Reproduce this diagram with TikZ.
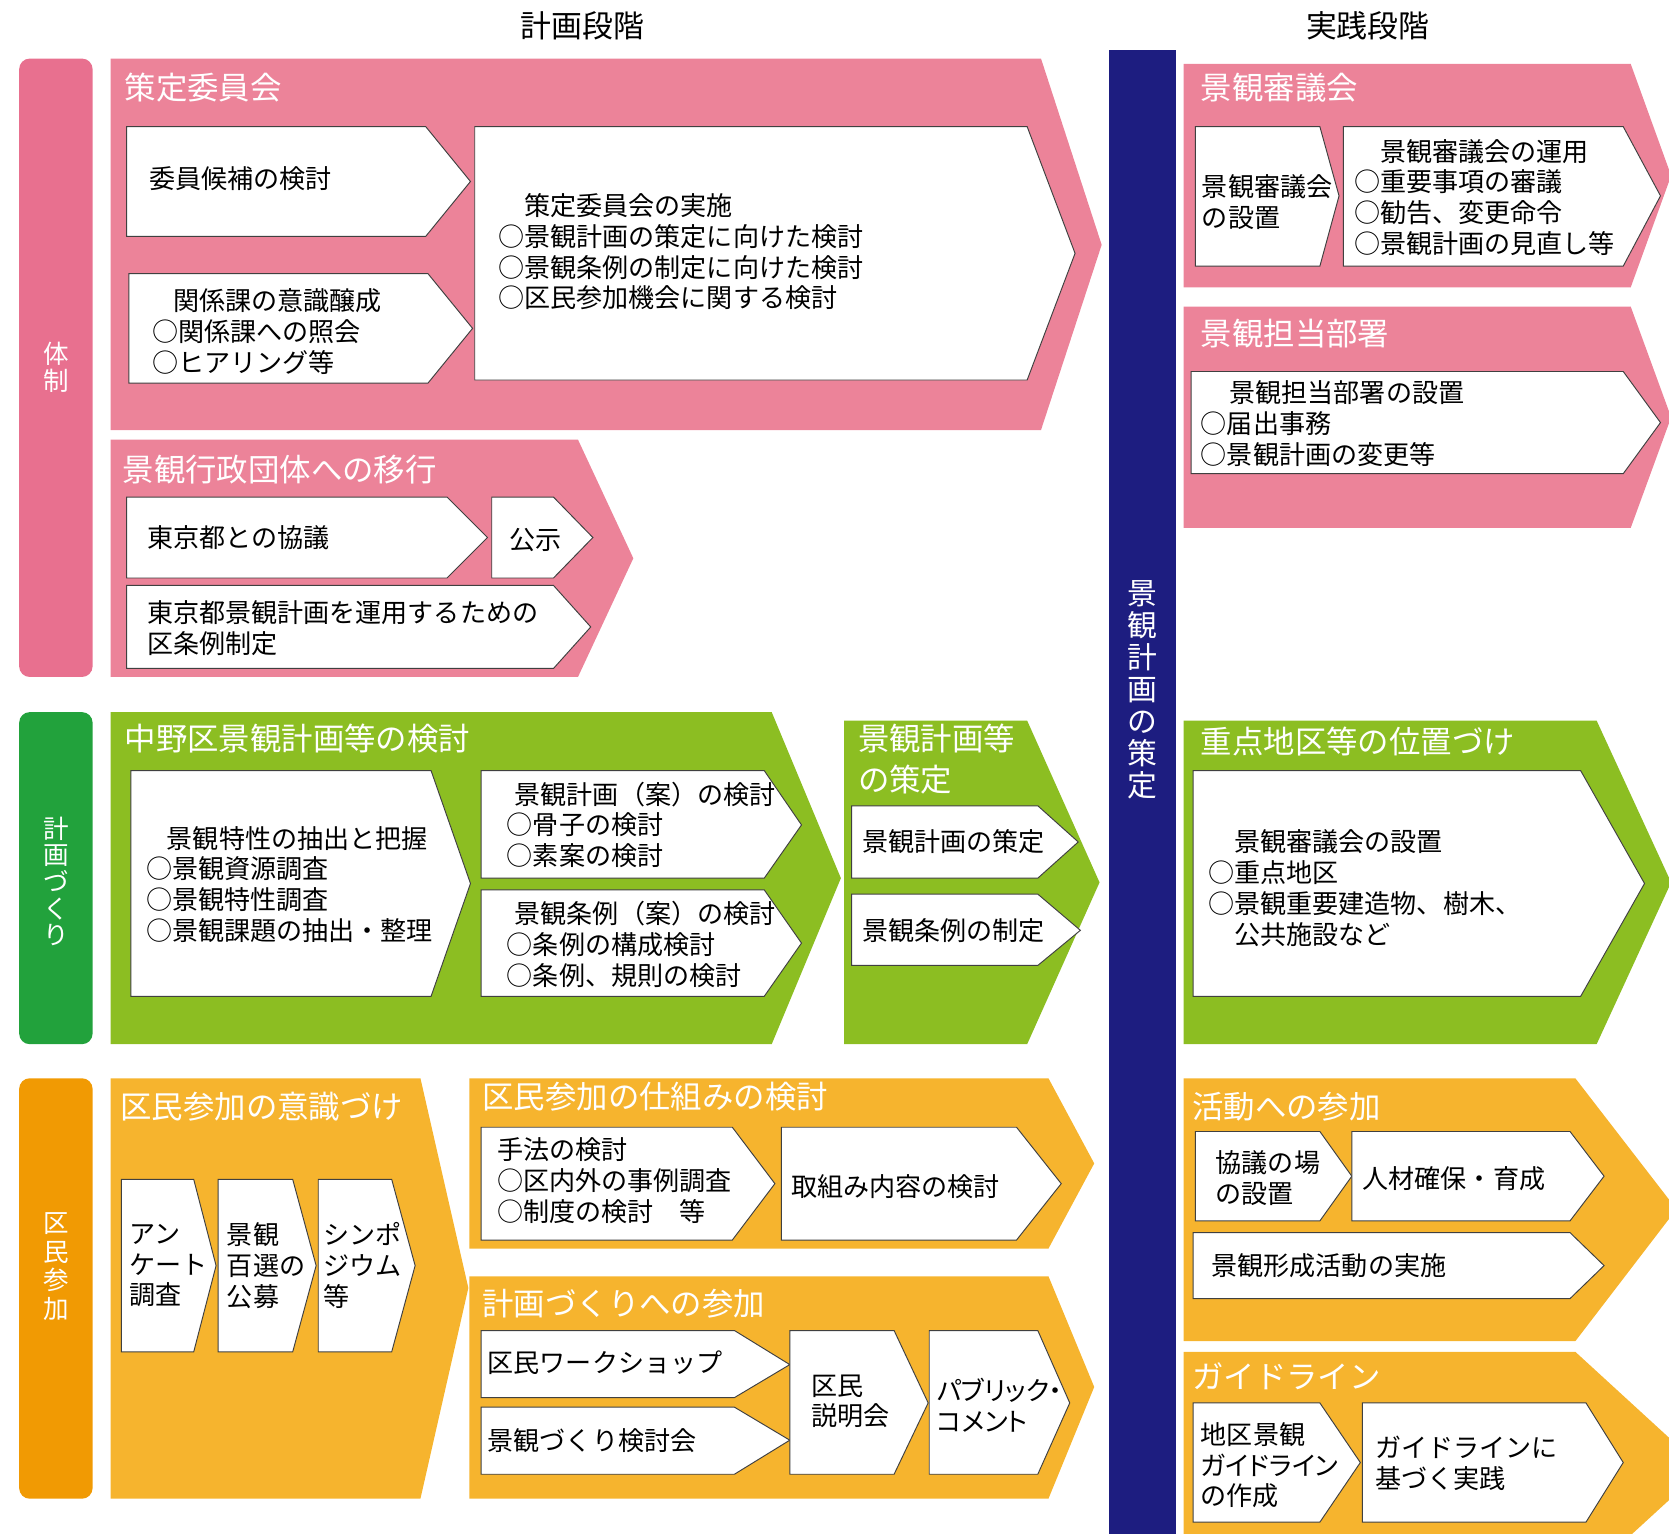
\documentclass[tikz,border=0pt]{standalone}
\usepackage{fontspec}
\setmainfont{Noto Sans CJK JP}
\definecolor{pinkband}{HTML}{EC8399}
\definecolor{pinkbar}{HTML}{E8708F}
\definecolor{greenband}{HTML}{8CBE22}
\definecolor{greenbar}{HTML}{22A23C}
\definecolor{orangeband}{HTML}{F6B42E}
\definecolor{orangebar}{HTML}{F19A03}
\definecolor{navybar}{HTML}{1D1D80}
\begin{document}
\begin{tikzpicture}[x=1pt, y=-1pt,
    panel/.style={draw=black!75, fill=white, line width=0.9pt},
    headtext/.style={text=white, anchor=west, inner sep=0, font=\fontsize{29.5}{38}\selectfont, align=left},
    bodytext/.style={anchor=west, inner sep=0, font=\fontsize{24.5}{29}\selectfont, align=left},
    sidetext/.style={text=white, inner sep=0, font=\fontsize{24}{25}\selectfont, align=center},
    phasetext/.style={inner sep=0, font=\fontsize{29}{34}\selectfont}]
    \useasboundingbox (0,0) rectangle (1568,1441);

    % Phase headings
    \node[phasetext] (planphase) at (547,24) {計画段階};
    \node[phasetext] (practphase) at (1285,24) {実践段階};

    % Category bars on the left
    \fill[pinkbar, rounded corners=10pt] (18,55) rectangle (87,636);
    \fill[greenbar, rounded corners=10pt] (18,669) rectangle (87,981);
    \fill[orangebar, rounded corners=10pt] (18,1013) rectangle (87,1408);
    \node[sidetext] (taisei) at (53,345) {体\\制};
    \node[sidetext] (keikaku) at (53,828) {計\\画\\づ\\く\\り};
    \node[sidetext, font=\fontsize{24}{27}\selectfont] (kumin) at (53,1190) {区\\民\\参\\加};

    % Central bar
    \fill[navybar] (1042,47) rectangle (1105,1450);
    \node[text=white, inner sep=0, align=center, font=\fontsize{28}{30}\selectfont] (sakutei) at (1073,648) {景\\観\\計\\画\\の\\策\\定};

    % ---- Taisei row (pink) ----
    \fill[pinkband] (104,55) -- (978,55) -- (1035,230) -- (978,404) -- (104,404) -- cycle;
    \node[headtext] (iinkai) at (117,82) {策定委員会};
    \draw[panel] (119,119) -- (400,119) -- (442,170.5) -- (400,222) -- (119,222) -- cycle;
    \node[bodytext] (kouho) at (140,168) {委員候補の検討};
    \draw[panel] (121,257) -- (402,257) -- (444,308.5) -- (402,360) -- (121,360) -- cycle;
    \node[bodytext] (jousei) at (143,311.5) {\hspace*{0.8em}関係課の意識醸成\\○関係課への照会\\○ヒアリング等};
    \draw[panel] (446,119) -- (965,119) -- (1010,238) -- (965,357) -- (446,357) -- cycle;
    \node[bodytext] (jisshi) at (468,236.5) {\hspace*{1em}策定委員会の実施\\○景観計画の策定に向けた検討\\○景観条例の制定に向けた検討\\○区民参加機会に関する検討};

    \fill[pinkband] (104,413) -- (543,413) -- (595,524.5) -- (543,636) -- (104,636) -- cycle;
    \node[headtext] (ikou) at (115,441) {景観行政団体への移行};
    \draw[panel] (119,467) -- (420,467) -- (458,505) -- (420,543) -- (119,543) -- cycle;
    \node[bodytext] (kyougi) at (138,505) {東京都との協議};
    \draw[panel] (462,467) -- (520,467) -- (557,505) -- (520,543) -- (462,543) -- cycle;
    \node[bodytext] (kouji) at (478,507) {公示};
    \draw[panel] (119,550) -- (520,550) -- (555,589) -- (520,628) -- (119,628) -- cycle;
    \node[bodytext] (jourei) at (138,590.5) {東京都景観計画を運用するための\\区条例制定};

    % ---- Keikaku row (green) ----
    \fill[greenband] (104,669) -- (725,669) -- (790,825) -- (725,981) -- (104,981) -- cycle;
    \node[headtext] (kentou) at (117,694) {中野区景観計画等の検討};
    \draw[panel] (123,724) -- (405,724) -- (442,830) -- (405,936) -- (123,936) -- cycle;
    \node[bodytext] (tokusei) at (137,831) {\hspace*{0.8em}景観特性の抽出と把握\\○景観資源調査\\○景観特性調査\\○景観課題の抽出・整理};
    \draw[panel] (452,724) -- (718,724) -- (753,775) -- (718,825) -- (452,825) -- cycle;
    \node[bodytext] (keikakuan) at (476,775) {\hspace*{0.3em}景観計画（案）の検討\\○骨子の検討\\○素案の検討};
    \draw[panel] (452,836) -- (718,836) -- (753,886) -- (718,936) -- (452,936) -- cycle;
    \node[bodytext] (joureian) at (476,887) {\hspace*{0.3em}景観条例（案）の検討\\○条例の構成検討\\○条例、規則の検討};

    \fill[greenband] (793,677) -- (965,677) -- (1033,829) -- (965,981) -- (793,981) -- cycle;
    \node[headtext] (sakuteihead) at (806,713) {景観計画等\\の策定};
    \draw[panel] (800,757) -- (975,757) -- (1013,791) -- (975,825) -- (800,825) -- cycle;
    \node[bodytext] (keikakusakutei) at (810,791) {景観計画の策定};
    \draw[panel] (800,840) -- (975,840) -- (1015,874) -- (975,907) -- (800,907) -- cycle;
    \node[bodytext] (jourei2) at (810,874) {景観条例の制定};

    % ---- Kumin row (orange) ----
    \fill[orangeband] (104,1013) -- (395,1013) -- (440,1210) -- (395,1408) -- (104,1408) -- cycle;
    \node[headtext] (ishiki) at (113,1040) {区民参加の意識づけ};
    \draw[panel] (114,1108) -- (182,1108) -- (203,1189) -- (182,1270) -- (114,1270) -- cycle;
    \node[bodytext] (anketo) at (121,1189) {アン\\ケート\\調査};
    \draw[panel] (205,1108) -- (275,1108) -- (297,1189) -- (275,1270) -- (205,1270) -- cycle;
    \node[bodytext] (hyakusen) at (213,1189) {景観\\百選の\\公募};
    \draw[panel] (299,1108) -- (368,1108) -- (390,1189) -- (368,1270) -- (299,1270) -- cycle;
    \node[bodytext] (shinpo) at (304,1189) {シンポ\\ジウム\\等};

    \fill[orangeband] (441,1013) -- (985,1013) -- (1028,1093) -- (985,1173) -- (441,1173) -- cycle;
    \node[headtext] (shikumi) at (453,1030) {区民参加の仕組みの検討};
    \draw[panel] (452,1059) -- (688,1059) -- (728,1112) -- (688,1165) -- (452,1165) -- cycle;
    \node[bodytext] (shuhou) at (467,1109.5) {手法の検討\\○区内外の事例調査\\○制度の検討　等};
    \draw[panel] (734,1059) -- (955,1059) -- (997,1112) -- (955,1165) -- (734,1165) -- cycle;
    \node[bodytext] (torikumi) at (743,1115) {取組み内容の検討};

    \fill[orangeband] (441,1199) -- (985,1199) -- (1028,1303) -- (985,1408) -- (441,1408) -- cycle;
    \node[headtext] (sanka) at (453,1225) {計画づくりへの参加};
    \draw[panel] (452,1250) -- (690,1250) -- (742,1282) -- (690,1313) -- (452,1313) -- cycle;
    \node[bodytext] (workshop) at (458,1280) {区民ワークショップ};
    \draw[panel] (452,1322) -- (690,1322) -- (742,1353) -- (690,1385) -- (452,1385) -- cycle;
    \node[bodytext] (kentoukai) at (458,1353) {景観づくり検討会};
    \draw[panel] (742,1250) -- (840,1250) -- (872,1318) -- (840,1385) -- (742,1385) -- cycle;
    \node[bodytext] (setsumei) at (762,1316.5) {区民\\説明会};
    \draw[panel] (873,1250) -- (975,1250) -- (1005,1318) -- (975,1385) -- (873,1385) -- cycle;
    \node[bodytext, font=\fontsize{24.5}{29}\selectfont\addfontfeatures{RawFeature=+palt}] (comment) at (880,1320.5) {パブリック・\\コメント};

    % ---- Practice side ----
    \fill[pinkband] (1112,60) -- (1532,60) -- (1570,165) -- (1532,270) -- (1112,270) -- cycle;
    \node[headtext] (shingikai) at (1128,82) {景観審議会};
    \draw[panel] (1123,119) -- (1240,119) -- (1258,184) -- (1240,250) -- (1123,250) -- cycle;
    \node[bodytext] (secchi) at (1129,189.5) {景観審議会\\の設置};
    \draw[panel] (1262,119) -- (1525,119) -- (1560,184) -- (1525,250) -- (1262,250) -- cycle;
    \node[bodytext] (unyou) at (1272,185.5) {\hspace*{1em}景観審議会の運用\\○重要事項の審議\\○勧告、変更命令\\○景観計画の見直し等};

    \fill[pinkband] (1112,288) -- (1532,288) -- (1570,392) -- (1532,496) -- (1112,496) -- cycle;
    \node[headtext] (busho) at (1128,313) {景観担当部署};
    \draw[panel] (1119,349) -- (1525,349) -- (1560,397) -- (1525,445) -- (1119,445) -- cycle;
    \node[bodytext] (bushosecchi) at (1128,398) {\hspace*{1.1em}景観担当部署の設置\\○届出事務\\○景観計画の変更等};

    \fill[greenband] (1112,677) -- (1500,677) -- (1570,829) -- (1500,981) -- (1112,981) -- cycle;
    \node[headtext] (juuten) at (1128,697) {重点地区等の位置づけ};
    \draw[panel] (1121,724) -- (1485,724) -- (1545,830) -- (1485,936) -- (1121,936) -- cycle;
    \node[bodytext] (ichizuke) at (1135,834.5) {\hspace*{1em}景観審議会の設置\\○重点地区\\○景観重要建造物、樹木、\\\hspace*{1em}公共施設など};

    \fill[orangeband] (1112,1013) -- (1480,1013) -- (1575,1136) -- (1480,1260) -- (1112,1260) -- cycle;
    \node[headtext] (katsudou) at (1120,1040) {活動への参加};
    \draw[panel] (1123,1063) -- (1240,1063) -- (1270,1105) -- (1240,1147) -- (1123,1147) -- cycle;
    \node[bodytext] (ba) at (1142,1106.5) {協議の場\\の設置};
    \draw[panel] (1270,1063) -- (1475,1063) -- (1507,1105) -- (1475,1147) -- (1270,1147) -- cycle;
    \node[bodytext] (jinzai) at (1280,1107) {人材確保・育成};
    \draw[panel] (1121,1158) -- (1475,1158) -- (1507,1189) -- (1475,1220) -- (1121,1220) -- cycle;
    \node[bodytext] (keisei) at (1138,1189) {景観形成活動の実施};

    \fill[orangeband] (1112,1270) -- (1480,1270) -- (1600,1380) -- (1480,1490) -- (1112,1490) -- cycle;
    \node[headtext] (guide) at (1120,1293) {ガイドライン};
    \draw[panel] (1121,1318) -- (1240,1318) -- (1278,1374) -- (1240,1430) -- (1121,1430) -- cycle;
    \node[bodytext, font=\fontsize{24.5}{29}\selectfont\addfontfeatures{RawFeature=+palt}] (sakusei) at (1128,1376.5) {地区景観\\ガイドライン\\の作成};
    \draw[panel] (1280,1318) -- (1490,1318) -- (1525,1374) -- (1490,1430) -- (1280,1430) -- cycle;
    \node[bodytext] (jissen) at (1292,1375) {ガイドラインに\\基づく実践};
\end{tikzpicture}
\end{document}
